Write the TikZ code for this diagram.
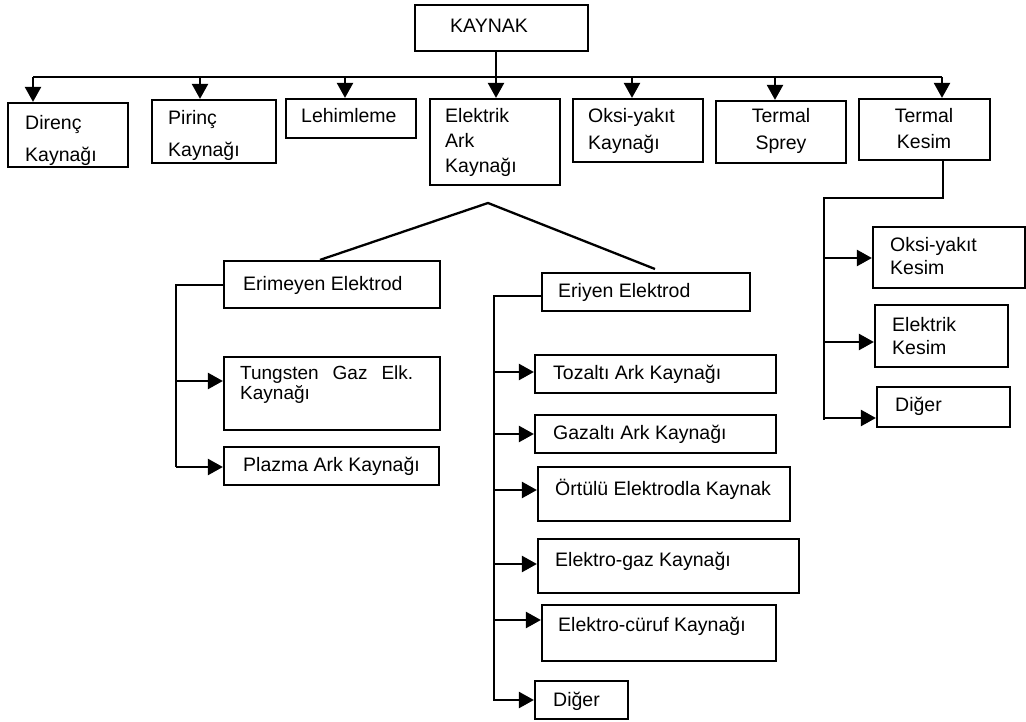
\documentclass[tikz,border=0pt]{standalone}
\usepackage{fontspec}
\setmainfont{Liberation Sans}
\usetikzlibrary{fit,arrows.meta}
\begin{document}
\begin{tikzpicture}[x=1pt,y=-1pt,
  box/.style={draw, line width=2.2pt, inner sep=0pt},
  txt/.style={anchor=north west, inner sep=0pt, align=left, font=\fontsize{19.5}{24}\selectfont},
  ctxt/.style={txt, anchor=north, align=center},
  ln/.style={line width=2.3pt},
  arr/.style={line width=2.3pt, -{Triangle[length=15pt,width=16pt]}}
]
\useasboundingbox (0,0) rectangle (1026,722);

% boxes
\node[box, fit={(415,5) (588,51)}] (kaynak) {};
\node[txt] (kaynak-t) at (450,19) {KAYNAK};

\node[box, fit={(8,103) (128,167)}] (direnc) {};
\node[txt, font=\fontsize{19.5}{32}\selectfont] (direnc-t) at (25,115) {Direnç\\Kaynağı};

\node[box, fit={(152,100) (276,163)}] (pirinc) {};
\node[txt, font=\fontsize{19.5}{32}\selectfont] (pirinc-t) at (168,110) {Pirinç\\Kaynağı};

\node[box, fit={(286,99) (416,138)}] (lehim) {};
\node[txt] (lehim-t) at (301,108) {Lehimleme};

\node[box, fit={(430,99) (560,185)}] (elark) {};
\node[txt, font=\fontsize{19.5}{25}\selectfont] (elark-t) at (445,108) {Elektrik\\Ark\\Kaynağı};

\node[box, fit={(573,99) (703,162)}] (oksi) {};
\node[txt, font=\fontsize{19.5}{27}\selectfont] (oksi-t) at (588,108) {Oksi-yakıt\\Kaynağı};

\node[box, fit={(716,101) (846,163)}] (sprey) {};
\node[ctxt, font=\fontsize{19.5}{27}\selectfont] (sprey-t) at (781,108) {Termal\\Sprey};

\node[box, fit={(859,99) (990,160)}] (tkesim) {};
\node[ctxt, font=\fontsize{19.5}{26}\selectfont] (tkesim-t) at (924,108) {Termal\\Kesim};

\node[box, fit={(224,261) (440,308)}] (erim) {};
\node[txt] (erim-t) at (243,276) {Erimeyen Elektrod};

\node[box, fit={(224,357) (440,430)}] (tung) {};
\node[txt, font=\fontsize{19}{20}\selectfont] (tung-t) at (240,366) {\makebox[173pt][s]{Tungsten Gaz Elk.}\\Kaynağı};

\node[box, fit={(224,447) (439,485)}] (plazma) {};
\node[txt] (plazma-t) at (243,457) {Plazma Ark Kaynağı};

\node[box, fit={(542,273) (750,311)}] (eriyen) {};
\node[txt] (eriyen-t) at (558,283) {Eriyen Elektrod};

\node[box, fit={(535,355) (776,393)}] (toz) {};
\node[txt] (toz-t) at (553,365) {Tozaltı Ark Kaynağı};

\node[box, fit={(535,415) (776,453)}] (gaz) {};
\node[txt] (gaz-t) at (553,425) {Gazaltı Ark Kaynağı};

\node[box, fit={(538,467) (790,521)}] (ortulu) {};
\node[txt, anchor=base west] (ortulu-t) at (555,495) {Örtülü Elektrodla Kaynak};

\node[box, fit={(538,539) (799,593)}] (elgaz) {};
\node[txt] (elgaz-t) at (555,552) {Elektro-gaz Kaynağı};

\node[box, fit={(542,605) (776,661)}] (elcur) {};
\node[txt] (elcur-t) at (558,617) {Elektro-cüruf Kaynağı};

\node[box, fit={(535,681) (628,719)}] (diger1) {};
\node[txt] (diger1-t) at (553,692) {Diğer};

\node[box, fit={(873,227) (1025,288)}] (okes) {};
\node[txt, font=\fontsize{19.5}{23}\selectfont] (okes-t) at (890,237) {Oksi-yakıt\\Kesim};

\node[box, fit={(875,305) (1008,367)}] (ekes) {};
\node[txt, font=\fontsize{19.5}{23}\selectfont] (ekes-t) at (892,317) {Elektrik\\Kesim};

\node[box, fit={(877,387) (1010,427)}] (diger2) {};
\node[txt] (diger2-t) at (895,397) {Diğer};

% top bus
\coordinate (k0) at (496,77);
\coordinate (b1) at (33,77);
\coordinate (b2) at (200,77);
\coordinate (b3) at (345,77);
\coordinate (b5) at (632,77);
\coordinate (b6) at (775,77);
\coordinate (b7) at (942,77);
\draw[ln] (kaynak.south -| k0) -- (k0);
\draw[ln] (b1) -- (b7);
\draw[arr] (b1) -- (b1 |- direnc.north);
\draw[arr] (b2) -- (b2 |- pirinc.north);
\draw[arr] (b3) -- (b3 |- lehim.north);
\draw[arr] (k0) -- (k0 |- elark.north);
\draw[arr] (b5) -- (b5 |- oksi.north);
\draw[arr] (b6) -- (b6 |- sprey.north);
\draw[arr] (b7) -- (b7 |- tkesim.north);

% termal kesim branch
\coordinate (t1) at (943,198);
\coordinate (t2) at (824,198);
\coordinate (t3) at (824,420);
\draw[ln] (tkesim.south -| t1) -- (t1) -- (t2) -- (t3);
\coordinate (ta) at (824,258);
\coordinate (tb) at (824,342);
\coordinate (tc) at (824,418);
\draw[arr] (ta) -- (ta -| okes.west);
\draw[arr] (tb) -- (tb -| ekes.west);
\draw[arr] (tc) -- (tc -| diger2.west);

% elektrik ark split
\coordinate (apex) at (488,203);
\coordinate (le) at (320,261);
\coordinate (re) at (655,269);
\draw[ln] (erim.north -| le) -- (apex) -- (re);

% erimeyen branch
\coordinate (e1) at (176,285);
\coordinate (e2) at (176,467);
\coordinate (ea) at (176,381);
\draw[ln] (erim.west |- e1) -- (e1) -- (e2);
\draw[arr] (ea) -- (ea -| tung.west);
\draw[arr] (e2) -- (e2 -| plazma.west);

% eriyen branch
\coordinate (r1) at (494,296);
\coordinate (r2) at (494,701);
\draw[ln] (eriyen.west |- r1) -- (r1) -- (r2);
\coordinate (ra) at (494,372);
\coordinate (rb) at (494,434);
\coordinate (rc) at (494,490);
\coordinate (rd) at (494,564);
\coordinate (rf) at (494,620);
\coordinate (rg) at (494,700);
\draw[arr] (ra) -- (ra -| toz.west);
\draw[arr] (rb) -- (rb -| gaz.west);
\draw[arr] (rc) -- (rc -| ortulu.west);
\draw[arr] (rd) -- (rd -| elgaz.west);
\draw[arr] (rf) -- (rf -| elcur.west);
\draw[arr] (rg) -- (rg -| diger1.west);
\end{tikzpicture}
\end{document}
